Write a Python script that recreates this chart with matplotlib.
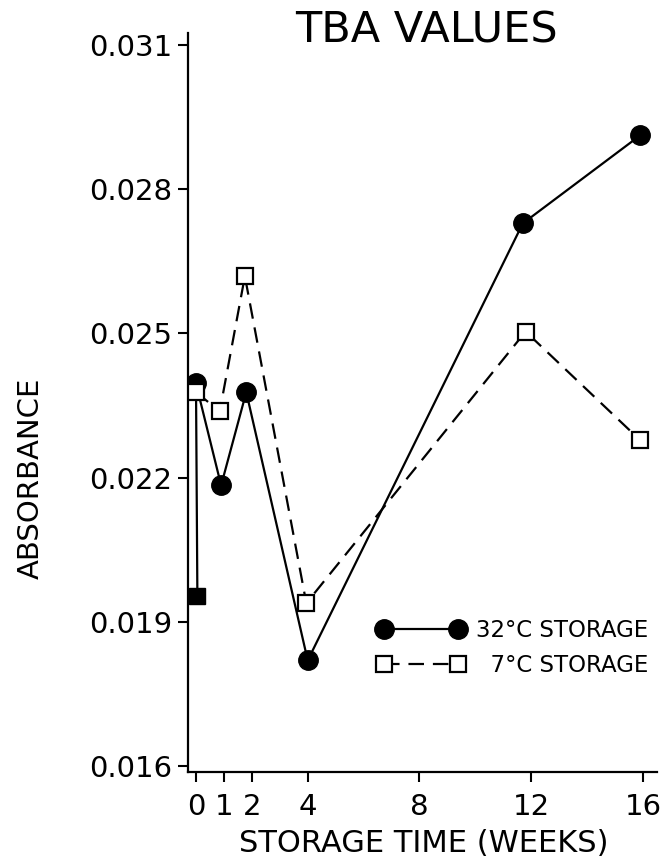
import matplotlib
matplotlib.use('Agg')
import matplotlib.pyplot as plt

plt.rcParams['font.family'] = ['DejaVu Sans']

# data
weeks_32 = [0, 0.9, 1.8, 4, 11.7, 15.9]
abs_32 = [0.02396, 0.02184, 0.02378, 0.01820, 0.02729, 0.02912]
weeks_7 = [0, 0.85, 1.75, 3.95, 11.8, 15.9]
abs_7 = [0.02378, 0.02338, 0.02619, 0.01939, 0.02504, 0.02278]
start_week = 0.05
start_abs = 0.01955

xticks = [0, 1, 2, 4, 8, 12, 16]
xticklabels = ['0', '1', '2', '4', '8', '12', '16']
yticks = [0.016, 0.019, 0.022, 0.025, 0.028, 0.031]
yticklabels = ['0.016', '0.019', '0.022', '0.025', '0.028', '0.031']

fig = plt.figure(figsize=(6.71, 8.61), dpi=100)
ax = fig.add_axes([0.280, 0.1034, 0.699, 0.8583])

# initial (fresh) value, joined to the first 32C point
ax.plot([start_week, weeks_32[0]], [start_abs, abs_32[0]], 'k-', lw=1.6)
ax.plot([start_week], [start_abs], 'ks', ms=11, zorder=4)

ax.plot(weeks_32, abs_32, 'k-', lw=1.6, marker='o', ms=14,
        label='32°C STORAGE', zorder=3)
# figure space keeps the two labels right-aligned like the original
ax.plot(weeks_7, abs_7, 'k', lw=1.6, dashes=(7, 4), marker='s', ms=12,
        mfc='white', mec='black', mew=1.6, label='\u20077°C STORAGE', zorder=3)

ax.set_xlim(-0.29, 16.5)
ax.set_ylim(0.01588, 0.03125)
ax.set_xticks(xticks)
ax.set_xticklabels(xticklabels)
ax.set_yticks(yticks)
ax.set_yticklabels(yticklabels)
ax.tick_params(axis='both', labelsize=21, width=1.5, length=7, direction='out')
ax.tick_params(axis='x', pad=8)
ax.tick_params(axis='y', pad=4)

for side in ['top', 'right']:
    ax.spines[side].set_visible(False)
for side in ['left', 'bottom']:
    ax.spines[side].set_linewidth(1.6)

ax.set_xlabel('STORAGE TIME (WEEKS)', fontsize=22, va='center')
ax.xaxis.set_label_coords(0.503, -0.097)
ax.set_ylabel('ABSORBANCE', fontsize=21, va='center')
ax.yaxis.set_label_coords(-0.335, 0.398)
fig.text(0.635, 0.964, 'TBA VALUES', fontsize=31, ha='center', va='center')

leg = ax.legend(loc='center left', bbox_to_anchor=(0.36, 0.168), frameon=False,
                numpoints=2, handlelength=3.8, fontsize=16.5, labelspacing=0.5,
                handletextpad=0.5)

fig.savefig('out.png', dpi=100)
